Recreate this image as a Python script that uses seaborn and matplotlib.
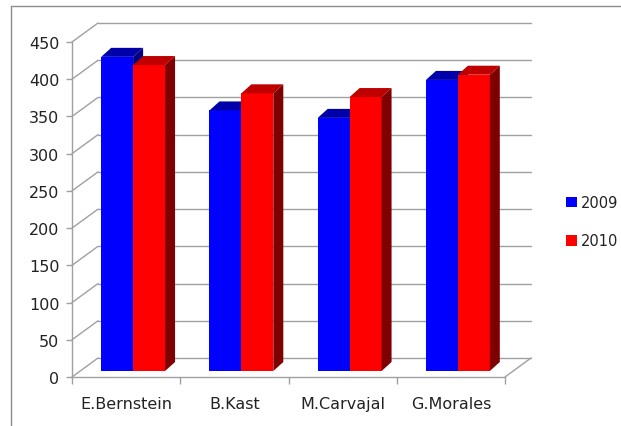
import matplotlib
matplotlib.use("Agg")
import matplotlib.pyplot as plt
import matplotlib.transforms as mtransforms
from matplotlib.patches import Polygon, Patch
from matplotlib.lines import Line2D
import seaborn as sns
import pandas as pd
import numpy as np

# ---- data ----
candidates = ["E.Bernstein", "B.Kast", "M.Carvajal", "G.Morales"]
years = ["2009", "2010"]
values_2009 = [422, 350, 340, 391]
values_2010 = [411, 373, 368, 398]
y_ticks = [0, 50, 100, 150, 200, 250, 300, 350, 400, 450]

front_colors = {"2009": "#0000FF", "2010": "#FF0000"}
top_colors = {"2009": "#0000AA", "2010": "#BF0000"}
side_colors = {"2009": "#000080", "2010": "#7F0000"}
grid_color = "#a0a0a0"
text_color = "#222222"

df = pd.DataFrame({
    "candidate": candidates * 2,
    "year": [years[0]] * len(candidates) + [years[1]] * len(candidates),
    "value": values_2009 + values_2010,
})

sns.set_theme(style="white")
plt.rcParams["font.family"] = ["DejaVu Sans"]

W, H = 621, 427
FS = 11.5
fig = plt.figure(figsize=(W / 100, H / 100), dpi=100)
fig.patch.set_facecolor("white")
ax = fig.add_axes([72 / W, 49 / H, 433 / W, 335 / H])
ax.set_facecolor("none")

sns.barplot(data=df, x="candidate", y="value", hue="year", order=candidates,
            hue_order=years, palette=front_colors, width=0.59, saturation=1,
            linewidth=0, ax=ax, legend=False)
ax.set_xlim(-0.5, len(candidates) - 0.5)
ax.set_ylim(0, 450)
ax.set_xlabel("")
ax.set_ylabel("")

# offsets (pixels) for pseudo-3D
back_dx, back_dy = 26, 19
bar_dx, bar_dy = 7, 6
dep_dx, dep_dy = 10, 9

back_trans = mtransforms.offset_copy(ax.transData, fig=fig, x=back_dx, y=back_dy, units="dots")
bar_trans = mtransforms.offset_copy(ax.transData, fig=fig, x=bar_dx, y=bar_dy, units="dots")
inv = ax.transData.inverted()

x0_lim, x1_lim = ax.get_xlim()

# back wall gridlines
for v in y_ticks:
    ax.plot([x0_lim, x1_lim], [v, v], transform=back_trans, color=grid_color,
            lw=1, clip_on=False, zorder=1)
    # left wall diagonal
    p_front = ax.transData.transform((x0_lim, v))
    p_back = back_trans.transform((x0_lim, v))
    d = inv.transform([p_front, p_back])
    ax.plot(d[:, 0], d[:, 1], color=grid_color, lw=1, clip_on=False, zorder=1)
# right floor edge
p_front = ax.transData.transform((x1_lim, 0))
p_back = back_trans.transform((x1_lim, 0))
d = inv.transform([p_front, p_back])
ax.plot(d[:, 0], d[:, 1], color=grid_color, lw=1, clip_on=False, zorder=1)

# bars: shift front faces and add top / side faces
for i, (year, container) in enumerate(zip(years, ax.containers)):
    for bar in container:
        bar.set_transform(bar_trans)
        bar.set_clip_on(False)
        bar.set_zorder(3 + i)
        bx0 = bar.get_x()
        bx1 = bx0 + bar.get_width()
        h = bar.get_height()
        p = bar_trans.transform([(bx0, h), (bx1, h), (bx1, 0)])
        off = np.array([dep_dx, dep_dy])
        top = np.array([p[0], p[1], p[1] + off, p[0] + off])
        side = np.array([p[2], p[1], p[1] + off, p[2] + off])
        ax.add_patch(Polygon(inv.transform(top), closed=True, facecolor=top_colors[year],
                             edgecolor="none", zorder=3 + i + 0.1, clip_on=False))
        ax.add_patch(Polygon(inv.transform(side), closed=True, facecolor=side_colors[year],
                             edgecolor="none", zorder=3 + i + 0.2, clip_on=False))

# axes styling
for s in ["top", "right"]:
    ax.spines[s].set_visible(False)
for s in ["left", "bottom"]:
    ax.spines[s].set_color(grid_color)
    ax.spines[s].set_linewidth(1)
    ax.spines[s].set_zorder(2)

ax.set_yticks(y_ticks)
ax.set_yticklabels([str(v) for v in y_ticks])
ax.set_xticks(range(len(candidates)))
ax.set_xticklabels(candidates)
ax.set_xticks(np.arange(-0.5, len(candidates), 1.0), minor=True)
ax.tick_params(axis="y", which="major", direction="out", length=4, width=1,
               color=grid_color, labelsize=FS, labelcolor=text_color, pad=5, left=True)
ax.tick_params(axis="x", which="major", length=0, labelsize=FS,
               labelcolor=text_color, pad=14)
ax.tick_params(axis="x", which="minor", direction="out", length=5, width=1,
               color=grid_color, bottom=True)

# legend
handles = [Patch(facecolor=front_colors[y], edgecolor="none") for y in years]
fig.legend(handles, years, loc="upper left", bbox_to_anchor=(566 / W, 1 - 196 / H),
           frameon=False, handlelength=0.75, handleheight=0.75, handletextpad=0.3,
           labelspacing=1.6, fontsize=10.5, labelcolor=text_color, borderaxespad=0,
           borderpad=0)

# chart border (left and top edges)
fig.add_artist(Line2D([11 / W, 11 / W], [0, 1 - 7 / H], transform=fig.transFigure,
                      color="#8c8c8c", lw=1))
fig.add_artist(Line2D([11 / W, 1], [1 - 7 / H, 1 - 7 / H], transform=fig.transFigure,
                      color="#8c8c8c", lw=1))

fig.savefig("out.png", dpi=100, facecolor="white")
